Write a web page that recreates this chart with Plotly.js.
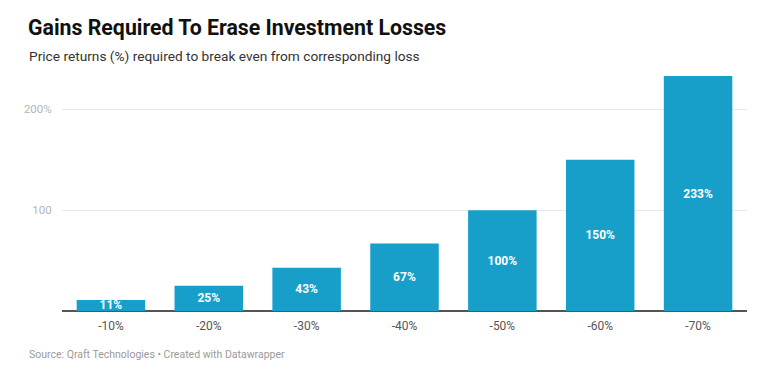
<!DOCTYPE html>
<html>
<head>
<meta charset="utf-8">
<script src="https://cdn.plot.ly/plotly-3.0.1.min.js"></script>
<style>
html,body{margin:0;padding:0;background:#fff;}
#chart{width:760px;height:375px;}
</style>
</head>
<body>
<div id="chart"></div>
<script>
const categories = ['-10%', '-20%', '-30%', '-40%', '-50%', '-60%', '-70%'];
const gains = [11, 25, 43, 67, 100, 150, 233];
const barLabels = ['11%', '25%', '43%', '67%', '100%', '150%', '233%'];
const yTickVals = [100, 200];
const yTickText = ['100', '200%'];

const trace = {
  type: 'bar',
  x: categories,
  y: gains,
  text: barLabels,
  textposition: 'inside',
  insidetextanchor: 'middle',
  constraintext: 'none',
  textfont: {family: 'Roboto, sans-serif', size: 12, color: '#ffffff', weight: 700},
  marker: {color: '#179fca', line: {width: 0}},
  hoverinfo: 'none'
};

const layout = {
  width: 760, height: 375,
  margin: {l: 62, r: 13, t: 76, b: 64},
  paper_bgcolor: '#ffffff', plot_bgcolor: '#ffffff',
  bargap: 0.3,
  showlegend: false,
  font: {family: 'Roboto, sans-serif'},
  xaxis: {
    type: 'category',
    tickfont: {family: 'Roboto, sans-serif', size: 12, color: '#555555'},
    showgrid: false, showline: false, zeroline: false,
    ticks: 'outside', ticklen: 4, tickcolor: 'rgba(0,0,0,0)',
    fixedrange: true
  },
  yaxis: {
    range: [0, 233],
    tickvals: yTickVals, ticktext: yTickText,
    tickfont: {family: 'Roboto, sans-serif', size: 11.5, color: '#b5b5b5'},
    showgrid: true, gridcolor: '#e8e8e8', gridwidth: 1,
    zeroline: true, zerolinecolor: '#555555', zerolinewidth: 1.5,
    showline: false,
    ticks: 'outside', ticklen: 7, tickcolor: 'rgba(0,0,0,0)',
    fixedrange: true
  },
  annotations: [
    {text: '<b>Gains Required To Erase Investment Losses</b>', xref: 'paper', yref: 'paper', x: 0, y: 0, xanchor: 'left', yanchor: 'middle', showarrow: false,
     font: {family: 'Roboto, sans-serif', size: 21.3, color: '#111111'}},
    {text: 'Price returns (%) required to break even from corresponding loss', xref: 'paper', yref: 'paper', x: 0, y: 0, xanchor: 'left', yanchor: 'middle', showarrow: false,
     font: {family: 'Roboto, sans-serif', size: 13.7, color: '#333333'}},
    {text: 'Source: Qraft Technologies • Created with Datawrapper', xref: 'paper', yref: 'paper', x: 0, y: 0, xanchor: 'left', yanchor: 'middle', showarrow: false,
     font: {family: 'Roboto, sans-serif', size: 10.5, color: '#9a9a9a'}}
  ]
};

const plotH = 375 - 76 - 64, plotW = 760 - 62 - 13;
function px(xp) { return (xp - 62) / plotW; }
function py(yp) { return (375 - 64 - yp) / plotH; }
layout.annotations[0].x = px(26); layout.annotations[0].y = py(27);
layout.annotations[1].x = px(27); layout.annotations[1].y = py(56);
layout.annotations[2].x = px(27); layout.annotations[2].y = py(354);

Plotly.newPlot('chart', [trace], layout, {displayModeBar: false, staticPlot: true});
</script>
</body>
</html>
